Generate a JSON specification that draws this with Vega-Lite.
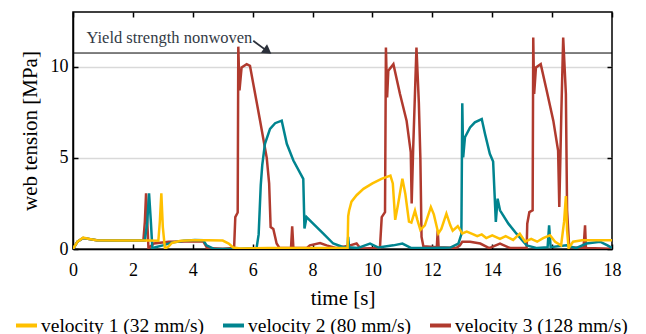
{
  "$schema": "https://vega.github.io/schema/vega-lite/v6.json",
  "autosize": {"type": "none"},
  "padding": {"left": 73, "top": 12, "right": 34, "bottom": 85},
  "width": 539,
  "height": 237,
  "config": {
    "font": "Liberation Serif",
    "view": {"stroke": "#000", "strokeWidth": 1.5},
    "text": {"font": "Liberation Serif"},
    "legend": {"labelFont": "Liberation Serif"},
    "axis": {"labelFont": "Liberation Serif", "titleFont": "Liberation Serif", "labelColor": "#000", "titleColor": "#000", "titleFontWeight": "normal", "domainColor": "#000", "tickColor": "#000", "domainWidth": 1.5, "tickWidth": 1.5},
    "axisX": {"labelFont": "Liberation Serif", "titleFont": "Liberation Serif", "titleFontWeight": "normal"},
    "axisY": {"labelFont": "Liberation Serif", "titleFont": "Liberation Serif", "titleFontWeight": "normal"}
  },
  "datasets": {
    "lines": [
      {"s": "velocity 3 (128 mm/s)", "t": 0, "v": 0},
      {"s": "velocity 3 (128 mm/s)", "t": 0.15, "v": 0.4},
      {"s": "velocity 3 (128 mm/s)", "t": 0.34, "v": 0.6},
      {"s": "velocity 3 (128 mm/s)", "t": 0.79, "v": 0.48},
      {"s": "velocity 3 (128 mm/s)", "t": 1.5, "v": 0.46},
      {"s": "velocity 3 (128 mm/s)", "t": 2.35, "v": 0.46},
      {"s": "velocity 3 (128 mm/s)", "t": 2.4, "v": 1.5},
      {"s": "velocity 3 (128 mm/s)", "t": 2.44, "v": 3.06},
      {"s": "velocity 3 (128 mm/s)", "t": 2.48, "v": 1.5},
      {"s": "velocity 3 (128 mm/s)", "t": 2.52, "v": 0.05},
      {"s": "velocity 3 (128 mm/s)", "t": 2.7, "v": 0.3},
      {"s": "velocity 3 (128 mm/s)", "t": 3.2, "v": 0.4},
      {"s": "velocity 3 (128 mm/s)", "t": 4.35, "v": 0.42},
      {"s": "velocity 3 (128 mm/s)", "t": 4.48, "v": 0.05},
      {"s": "velocity 3 (128 mm/s)", "t": 5.0, "v": 0.02},
      {"s": "velocity 3 (128 mm/s)", "t": 5.38, "v": 0.05},
      {"s": "velocity 3 (128 mm/s)", "t": 5.42, "v": 1.75},
      {"s": "velocity 3 (128 mm/s)", "t": 5.5, "v": 2.0},
      {"s": "velocity 3 (128 mm/s)", "t": 5.52, "v": 11.1},
      {"s": "velocity 3 (128 mm/s)", "t": 5.56, "v": 8.7},
      {"s": "velocity 3 (128 mm/s)", "t": 5.63, "v": 9.96},
      {"s": "velocity 3 (128 mm/s)", "t": 5.8, "v": 10.14},
      {"s": "velocity 3 (128 mm/s)", "t": 5.91, "v": 10.05},
      {"s": "velocity 3 (128 mm/s)", "t": 6.24, "v": 7.1},
      {"s": "velocity 3 (128 mm/s)", "t": 6.47, "v": 5.0},
      {"s": "velocity 3 (128 mm/s)", "t": 6.55, "v": 3.6},
      {"s": "velocity 3 (128 mm/s)", "t": 6.6, "v": 1.2},
      {"s": "velocity 3 (128 mm/s)", "t": 6.69, "v": 1.1},
      {"s": "velocity 3 (128 mm/s)", "t": 6.8, "v": 0.3},
      {"s": "velocity 3 (128 mm/s)", "t": 6.9, "v": 0.05},
      {"s": "velocity 3 (128 mm/s)", "t": 7.28, "v": 0.05},
      {"s": "velocity 3 (128 mm/s)", "t": 7.32, "v": 1.24},
      {"s": "velocity 3 (128 mm/s)", "t": 7.36, "v": 0.05},
      {"s": "velocity 3 (128 mm/s)", "t": 7.8, "v": 0.05},
      {"s": "velocity 3 (128 mm/s)", "t": 7.91, "v": 0.2},
      {"s": "velocity 3 (128 mm/s)", "t": 8.25, "v": 0.33},
      {"s": "velocity 3 (128 mm/s)", "t": 8.47, "v": 0.2},
      {"s": "velocity 3 (128 mm/s)", "t": 8.8, "v": 0.05},
      {"s": "velocity 3 (128 mm/s)", "t": 9.25, "v": 0.2},
      {"s": "velocity 3 (128 mm/s)", "t": 9.47, "v": 0.3},
      {"s": "velocity 3 (128 mm/s)", "t": 9.6, "v": 0.03},
      {"s": "velocity 3 (128 mm/s)", "t": 10.25, "v": 0.05},
      {"s": "velocity 3 (128 mm/s)", "t": 10.31, "v": 1.75},
      {"s": "velocity 3 (128 mm/s)", "t": 10.42, "v": 2.02},
      {"s": "velocity 3 (128 mm/s)", "t": 10.45, "v": 11.05},
      {"s": "velocity 3 (128 mm/s)", "t": 10.49, "v": 8.32},
      {"s": "velocity 3 (128 mm/s)", "t": 10.53, "v": 9.78},
      {"s": "velocity 3 (128 mm/s)", "t": 10.7, "v": 10.14},
      {"s": "velocity 3 (128 mm/s)", "t": 10.92, "v": 8.5},
      {"s": "velocity 3 (128 mm/s)", "t": 11.14, "v": 7.04},
      {"s": "velocity 3 (128 mm/s)", "t": 11.28, "v": 5.3},
      {"s": "velocity 3 (128 mm/s)", "t": 11.31, "v": 2.5},
      {"s": "velocity 3 (128 mm/s)", "t": 11.36, "v": 5.5},
      {"s": "velocity 3 (128 mm/s)", "t": 11.47, "v": 11.05},
      {"s": "velocity 3 (128 mm/s)", "t": 11.55, "v": 8.0},
      {"s": "velocity 3 (128 mm/s)", "t": 11.6, "v": 5.0},
      {"s": "velocity 3 (128 mm/s)", "t": 11.64, "v": 0.66},
      {"s": "velocity 3 (128 mm/s)", "t": 11.7, "v": 0.15},
      {"s": "velocity 3 (128 mm/s)", "t": 12.15, "v": 0.1},
      {"s": "velocity 3 (128 mm/s)", "t": 12.18, "v": 1.02},
      {"s": "velocity 3 (128 mm/s)", "t": 12.21, "v": 0.1},
      {"s": "velocity 3 (128 mm/s)", "t": 12.8, "v": 0.05},
      {"s": "velocity 3 (128 mm/s)", "t": 12.92, "v": 0.2},
      {"s": "velocity 3 (128 mm/s)", "t": 13.0, "v": 0.4},
      {"s": "velocity 3 (128 mm/s)", "t": 13.26, "v": 0.4},
      {"s": "velocity 3 (128 mm/s)", "t": 13.6, "v": 0.3},
      {"s": "velocity 3 (128 mm/s)", "t": 13.9, "v": 0.05},
      {"s": "velocity 3 (128 mm/s)", "t": 14.26, "v": 0.3},
      {"s": "velocity 3 (128 mm/s)", "t": 14.6, "v": 0.05},
      {"s": "velocity 3 (128 mm/s)", "t": 15.15, "v": 0.05},
      {"s": "velocity 3 (128 mm/s)", "t": 15.17, "v": 1.39},
      {"s": "velocity 3 (128 mm/s)", "t": 15.24, "v": 2.02},
      {"s": "velocity 3 (128 mm/s)", "t": 15.35, "v": 2.12},
      {"s": "velocity 3 (128 mm/s)", "t": 15.37, "v": 11.6},
      {"s": "velocity 3 (128 mm/s)", "t": 15.4, "v": 8.5},
      {"s": "velocity 3 (128 mm/s)", "t": 15.46, "v": 9.96},
      {"s": "velocity 3 (128 mm/s)", "t": 15.62, "v": 10.14},
      {"s": "velocity 3 (128 mm/s)", "t": 15.82, "v": 8.68},
      {"s": "velocity 3 (128 mm/s)", "t": 16.04, "v": 7.04},
      {"s": "velocity 3 (128 mm/s)", "t": 16.2, "v": 5.4},
      {"s": "velocity 3 (128 mm/s)", "t": 16.24, "v": 2.3},
      {"s": "velocity 3 (128 mm/s)", "t": 16.31, "v": 7.6},
      {"s": "velocity 3 (128 mm/s)", "t": 16.37, "v": 11.6},
      {"s": "velocity 3 (128 mm/s)", "t": 16.46, "v": 8.5},
      {"s": "velocity 3 (128 mm/s)", "t": 16.5, "v": 2.12},
      {"s": "velocity 3 (128 mm/s)", "t": 16.57, "v": 0.1},
      {"s": "velocity 3 (128 mm/s)", "t": 17.05, "v": 0.05},
      {"s": "velocity 3 (128 mm/s)", "t": 17.1, "v": 1.3},
      {"s": "velocity 3 (128 mm/s)", "t": 17.13, "v": 0.05},
      {"s": "velocity 3 (128 mm/s)", "t": 18.0, "v": 0.02},

      {"s": "velocity 2 (80 mm/s)", "t": 0, "v": 0},
      {"s": "velocity 2 (80 mm/s)", "t": 0.15, "v": 0.4},
      {"s": "velocity 2 (80 mm/s)", "t": 0.34, "v": 0.6},
      {"s": "velocity 2 (80 mm/s)", "t": 0.79, "v": 0.48},
      {"s": "velocity 2 (80 mm/s)", "t": 1.5, "v": 0.46},
      {"s": "velocity 2 (80 mm/s)", "t": 2.4, "v": 0.46},
      {"s": "velocity 2 (80 mm/s)", "t": 2.48, "v": 1.5},
      {"s": "velocity 2 (80 mm/s)", "t": 2.54, "v": 3.06},
      {"s": "velocity 2 (80 mm/s)", "t": 2.6, "v": 1.5},
      {"s": "velocity 2 (80 mm/s)", "t": 2.65, "v": 0.05},
      {"s": "velocity 2 (80 mm/s)", "t": 2.75, "v": 0.1},
      {"s": "velocity 2 (80 mm/s)", "t": 3.0, "v": 0.2},
      {"s": "velocity 2 (80 mm/s)", "t": 3.3, "v": 0.35},
      {"s": "velocity 2 (80 mm/s)", "t": 3.7, "v": 0.45},
      {"s": "velocity 2 (80 mm/s)", "t": 4.07, "v": 0.5},
      {"s": "velocity 2 (80 mm/s)", "t": 4.35, "v": 0.48},
      {"s": "velocity 2 (80 mm/s)", "t": 4.46, "v": 0.2},
      {"s": "velocity 2 (80 mm/s)", "t": 4.69, "v": 0.02},
      {"s": "velocity 2 (80 mm/s)", "t": 5.5, "v": 0.0},
      {"s": "velocity 2 (80 mm/s)", "t": 6.13, "v": 0.05},
      {"s": "velocity 2 (80 mm/s)", "t": 6.2, "v": 0.8},
      {"s": "velocity 2 (80 mm/s)", "t": 6.27, "v": 3.5},
      {"s": "velocity 2 (80 mm/s)", "t": 6.32, "v": 4.6},
      {"s": "velocity 2 (80 mm/s)", "t": 6.41, "v": 5.77},
      {"s": "velocity 2 (80 mm/s)", "t": 6.58, "v": 6.59},
      {"s": "velocity 2 (80 mm/s)", "t": 6.75, "v": 6.9},
      {"s": "velocity 2 (80 mm/s)", "t": 6.97, "v": 7.04},
      {"s": "velocity 2 (80 mm/s)", "t": 7.14, "v": 5.77},
      {"s": "velocity 2 (80 mm/s)", "t": 7.36, "v": 4.85},
      {"s": "velocity 2 (80 mm/s)", "t": 7.69, "v": 3.85},
      {"s": "velocity 2 (80 mm/s)", "t": 7.73, "v": 1.12},
      {"s": "velocity 2 (80 mm/s)", "t": 7.8, "v": 1.75},
      {"s": "velocity 2 (80 mm/s)", "t": 8.02, "v": 1.39},
      {"s": "velocity 2 (80 mm/s)", "t": 8.36, "v": 0.84},
      {"s": "velocity 2 (80 mm/s)", "t": 8.69, "v": 0.3},
      {"s": "velocity 2 (80 mm/s)", "t": 9.03, "v": 0.1},
      {"s": "velocity 2 (80 mm/s)", "t": 9.17, "v": 0.1},
      {"s": "velocity 2 (80 mm/s)", "t": 9.19, "v": 0.66},
      {"s": "velocity 2 (80 mm/s)", "t": 9.22, "v": 0.1},
      {"s": "velocity 2 (80 mm/s)", "t": 9.5, "v": 0.05},
      {"s": "velocity 2 (80 mm/s)", "t": 9.92, "v": 0.3},
      {"s": "velocity 2 (80 mm/s)", "t": 10.2, "v": 0.08},
      {"s": "velocity 2 (80 mm/s)", "t": 10.7, "v": 0.2},
      {"s": "velocity 2 (80 mm/s)", "t": 11.0, "v": 0.3},
      {"s": "velocity 2 (80 mm/s)", "t": 11.3, "v": 0.05},
      {"s": "velocity 2 (80 mm/s)", "t": 12.0, "v": 0.05},
      {"s": "velocity 2 (80 mm/s)", "t": 12.6, "v": 0.08},
      {"s": "velocity 2 (80 mm/s)", "t": 12.87, "v": 0.3},
      {"s": "velocity 2 (80 mm/s)", "t": 12.97, "v": 0.8},
      {"s": "velocity 2 (80 mm/s)", "t": 13.0, "v": 8.0},
      {"s": "velocity 2 (80 mm/s)", "t": 13.03, "v": 5.03},
      {"s": "velocity 2 (80 mm/s)", "t": 13.09, "v": 6.13},
      {"s": "velocity 2 (80 mm/s)", "t": 13.26, "v": 6.67},
      {"s": "velocity 2 (80 mm/s)", "t": 13.42, "v": 6.95},
      {"s": "velocity 2 (80 mm/s)", "t": 13.65, "v": 7.13},
      {"s": "velocity 2 (80 mm/s)", "t": 13.76, "v": 6.31},
      {"s": "velocity 2 (80 mm/s)", "t": 13.92, "v": 5.22},
      {"s": "velocity 2 (80 mm/s)", "t": 14.03, "v": 4.8},
      {"s": "velocity 2 (80 mm/s)", "t": 14.12, "v": 1.48},
      {"s": "velocity 2 (80 mm/s)", "t": 14.18, "v": 2.76},
      {"s": "velocity 2 (80 mm/s)", "t": 14.26, "v": 2.12},
      {"s": "velocity 2 (80 mm/s)", "t": 14.54, "v": 1.39},
      {"s": "velocity 2 (80 mm/s)", "t": 14.81, "v": 0.84},
      {"s": "velocity 2 (80 mm/s)", "t": 15.15, "v": 0.2},
      {"s": "velocity 2 (80 mm/s)", "t": 15.5, "v": 0.05},
      {"s": "velocity 2 (80 mm/s)", "t": 15.85, "v": 0.1},
      {"s": "velocity 2 (80 mm/s)", "t": 15.9, "v": 1.3},
      {"s": "velocity 2 (80 mm/s)", "t": 15.95, "v": 0.1},
      {"s": "velocity 2 (80 mm/s)", "t": 16.48, "v": 0.2},
      {"s": "velocity 2 (80 mm/s)", "t": 16.8, "v": 0.05},
      {"s": "velocity 2 (80 mm/s)", "t": 17.15, "v": 0.3},
      {"s": "velocity 2 (80 mm/s)", "t": 17.6, "v": 0.4},
      {"s": "velocity 2 (80 mm/s)", "t": 17.85, "v": 0.2},
      {"s": "velocity 2 (80 mm/s)", "t": 18.0, "v": 0.05},

      {"s": "velocity 1 (32 mm/s)", "t": 0, "v": 0},
      {"s": "velocity 1 (32 mm/s)", "t": 0.15, "v": 0.4},
      {"s": "velocity 1 (32 mm/s)", "t": 0.34, "v": 0.62},
      {"s": "velocity 1 (32 mm/s)", "t": 0.55, "v": 0.55},
      {"s": "velocity 1 (32 mm/s)", "t": 0.79, "v": 0.48},
      {"s": "velocity 1 (32 mm/s)", "t": 1.5, "v": 0.46},
      {"s": "velocity 1 (32 mm/s)", "t": 2.5, "v": 0.46},
      {"s": "velocity 1 (32 mm/s)", "t": 2.85, "v": 0.45},
      {"s": "velocity 1 (32 mm/s)", "t": 2.9, "v": 1.5},
      {"s": "velocity 1 (32 mm/s)", "t": 2.95, "v": 3.06},
      {"s": "velocity 1 (32 mm/s)", "t": 3.0, "v": 1.2},
      {"s": "velocity 1 (32 mm/s)", "t": 3.07, "v": 0.02},
      {"s": "velocity 1 (32 mm/s)", "t": 3.2, "v": 0.15},
      {"s": "velocity 1 (32 mm/s)", "t": 3.3, "v": 0.33},
      {"s": "velocity 1 (32 mm/s)", "t": 3.6, "v": 0.45},
      {"s": "velocity 1 (32 mm/s)", "t": 4.0, "v": 0.48},
      {"s": "velocity 1 (32 mm/s)", "t": 4.5, "v": 0.48},
      {"s": "velocity 1 (32 mm/s)", "t": 5.0, "v": 0.46},
      {"s": "velocity 1 (32 mm/s)", "t": 5.2, "v": 0.3},
      {"s": "velocity 1 (32 mm/s)", "t": 5.35, "v": 0.08},
      {"s": "velocity 1 (32 mm/s)", "t": 5.6, "v": 0.03},
      {"s": "velocity 1 (32 mm/s)", "t": 6.5, "v": 0.05},
      {"s": "velocity 1 (32 mm/s)", "t": 7.5, "v": 0.05},
      {"s": "velocity 1 (32 mm/s)", "t": 8.5, "v": 0.05},
      {"s": "velocity 1 (32 mm/s)", "t": 9.17, "v": 0.06},
      {"s": "velocity 1 (32 mm/s)", "t": 9.19, "v": 1.8},
      {"s": "velocity 1 (32 mm/s)", "t": 9.22, "v": 2.1},
      {"s": "velocity 1 (32 mm/s)", "t": 9.3, "v": 2.6},
      {"s": "velocity 1 (32 mm/s)", "t": 9.47, "v": 2.95},
      {"s": "velocity 1 (32 mm/s)", "t": 9.7, "v": 3.3},
      {"s": "velocity 1 (32 mm/s)", "t": 10.0, "v": 3.6},
      {"s": "velocity 1 (32 mm/s)", "t": 10.3, "v": 3.85},
      {"s": "velocity 1 (32 mm/s)", "t": 10.6, "v": 4.03},
      {"s": "velocity 1 (32 mm/s)", "t": 10.68, "v": 3.6},
      {"s": "velocity 1 (32 mm/s)", "t": 10.76, "v": 1.6},
      {"s": "velocity 1 (32 mm/s)", "t": 10.85, "v": 2.4},
      {"s": "velocity 1 (32 mm/s)", "t": 11.0, "v": 3.85},
      {"s": "velocity 1 (32 mm/s)", "t": 11.1, "v": 3.0},
      {"s": "velocity 1 (32 mm/s)", "t": 11.22, "v": 1.5},
      {"s": "velocity 1 (32 mm/s)", "t": 11.3, "v": 1.45},
      {"s": "velocity 1 (32 mm/s)", "t": 11.42, "v": 2.1},
      {"s": "velocity 1 (32 mm/s)", "t": 11.5, "v": 1.6},
      {"s": "velocity 1 (32 mm/s)", "t": 11.6, "v": 1.05},
      {"s": "velocity 1 (32 mm/s)", "t": 11.75, "v": 1.3},
      {"s": "velocity 1 (32 mm/s)", "t": 11.95, "v": 2.3},
      {"s": "velocity 1 (32 mm/s)", "t": 12.05, "v": 1.9},
      {"s": "velocity 1 (32 mm/s)", "t": 12.2, "v": 0.85},
      {"s": "velocity 1 (32 mm/s)", "t": 12.3, "v": 1.1},
      {"s": "velocity 1 (32 mm/s)", "t": 12.47, "v": 1.94},
      {"s": "velocity 1 (32 mm/s)", "t": 12.6, "v": 1.3},
      {"s": "velocity 1 (32 mm/s)", "t": 12.68, "v": 1.0},
      {"s": "velocity 1 (32 mm/s)", "t": 12.85, "v": 1.25},
      {"s": "velocity 1 (32 mm/s)", "t": 13.0, "v": 0.85},
      {"s": "velocity 1 (32 mm/s)", "t": 13.15, "v": 0.95},
      {"s": "velocity 1 (32 mm/s)", "t": 13.37, "v": 0.8},
      {"s": "velocity 1 (32 mm/s)", "t": 13.5, "v": 0.7},
      {"s": "velocity 1 (32 mm/s)", "t": 13.65, "v": 0.8},
      {"s": "velocity 1 (32 mm/s)", "t": 13.8, "v": 0.6},
      {"s": "velocity 1 (32 mm/s)", "t": 14.0, "v": 0.75},
      {"s": "velocity 1 (32 mm/s)", "t": 14.26, "v": 0.55},
      {"s": "velocity 1 (32 mm/s)", "t": 14.45, "v": 0.7},
      {"s": "velocity 1 (32 mm/s)", "t": 14.7, "v": 0.5},
      {"s": "velocity 1 (32 mm/s)", "t": 14.92, "v": 0.84},
      {"s": "velocity 1 (32 mm/s)", "t": 15.1, "v": 0.4},
      {"s": "velocity 1 (32 mm/s)", "t": 15.3, "v": 0.55},
      {"s": "velocity 1 (32 mm/s)", "t": 15.5, "v": 0.4},
      {"s": "velocity 1 (32 mm/s)", "t": 15.7, "v": 0.6},
      {"s": "velocity 1 (32 mm/s)", "t": 15.93, "v": 0.75},
      {"s": "velocity 1 (32 mm/s)", "t": 16.1, "v": 0.4},
      {"s": "velocity 1 (32 mm/s)", "t": 16.3, "v": 0.2},
      {"s": "velocity 1 (32 mm/s)", "t": 16.4, "v": 1.5},
      {"s": "velocity 1 (32 mm/s)", "t": 16.46, "v": 2.9},
      {"s": "velocity 1 (32 mm/s)", "t": 16.5, "v": 1.0},
      {"s": "velocity 1 (32 mm/s)", "t": 16.55, "v": 0.05},
      {"s": "velocity 1 (32 mm/s)", "t": 16.7, "v": 0.4},
      {"s": "velocity 1 (32 mm/s)", "t": 17.0, "v": 0.48},
      {"s": "velocity 1 (32 mm/s)", "t": 17.5, "v": 0.48},
      {"s": "velocity 1 (32 mm/s)", "t": 18.0, "v": 0.48}
    ]
  },
  "layer": [
    {
      "data": {"values": [{"y": 10.75}]},
      "mark": {"type": "rule", "color": "#000", "strokeWidth": 1},
      "encoding": {"y": {"field": "y", "type": "quantitative", "axis": null}}
    },
    {
      "data": {"name": "lines"},
      "transform": [{"filter": "datum.s === 'velocity 3 (128 mm/s)'"}],
      "mark": {"type": "line", "strokeWidth": 2.5, "clip": true},
      "encoding": {
        "x": {"field": "t", "type": "quantitative", "scale": {"domain": [0, 18], "nice": false, "zero": false},
          "axis": {"title": "time [s]", "values": [0, 2, 4, 6, 8, 10, 12, 14, 16, 18], "tickSize": -5, "labelPadding": 17, "labelFont": "Liberation Serif", "titleFont": "Liberation Serif", "titleFontWeight": "normal", "labelFontSize": 18, "titleFontSize": 21, "titlePadding": 8, "grid": false, "labelFlush": false}},
        "y": {"field": "v", "type": "quantitative", "scale": {"domain": [0, 13], "nice": false},
          "axis": {"title": "web tension [MPa]", "values": [0, 5, 10], "tickSize": -5, "labelPadding": 10, "labelFont": "Liberation Serif", "titleFont": "Liberation Serif", "titleFontWeight": "normal", "labelFontSize": 18, "titleFontSize": 21, "titlePadding": 10, "grid": true, "gridColor": "#d9d9d9", "gridWidth": 1.5}},
        "color": {"field": "s", "type": "nominal",
          "scale": {"domain": ["velocity 1 (32 mm/s)", "velocity 2 (80 mm/s)", "velocity 3 (128 mm/s)"], "range": ["#FFC000", "#00848F", "#B03A2E"]},
          "legend": {"orient": "none", "legendX": -59, "legendY": 301, "direction": "horizontal", "columns": 3, "title": null, "symbolType": "stroke", "symbolStrokeWidth": 4, "symbolSize": 440, "labelFontSize": 19.5, "labelFont": "Liberation Serif", "labelColor": "#000", "labelOffset": 2, "columnPadding": 10, "labelLimit": 300}}
      }
    },
    {
      "data": {"name": "lines"},
      "transform": [{"filter": "datum.s === 'velocity 2 (80 mm/s)'"}],
      "mark": {"type": "line", "strokeWidth": 2.5, "clip": true},
      "encoding": {
        "x": {"field": "t", "type": "quantitative", "axis": null},
        "y": {"field": "v", "type": "quantitative", "axis": null},
        "color": {"field": "s", "type": "nominal"}
      }
    },
    {
      "data": {"name": "lines"},
      "transform": [{"filter": "datum.s === 'velocity 1 (32 mm/s)'"}],
      "mark": {"type": "line", "strokeWidth": 2.5, "clip": true},
      "encoding": {
        "x": {"field": "t", "type": "quantitative", "axis": null},
        "y": {"field": "v", "type": "quantitative", "axis": null},
        "color": {"field": "s", "type": "nominal"}
      }
    },
    {
      "data": {"values": [{"t": 0.45, "v": 11.6, "label": "Yield strength nonwoven"}]},
      "mark": {"type": "text", "align": "left", "baseline": "middle", "fontSize": 16.5, "font": "Liberation Serif", "color": "#333a45"},
      "encoding": {
        "x": {"field": "t", "type": "quantitative", "axis": null},
        "y": {"field": "v", "type": "quantitative", "axis": null},
        "text": {"field": "label"}
      }
    },
    {
      "data": {"values": [{"t": 6.02, "v": 11.42, "t2": 6.5, "v2": 10.84}]},
      "mark": {"type": "rule", "color": "#2b303a", "strokeWidth": 1.8},
      "encoding": {
        "x": {"field": "t", "type": "quantitative",
          "axis": {"orient": "top", "values": [0, 2, 4, 6, 8, 10, 12, 14, 16, 18], "labels": false, "title": null, "tickSize": -5, "domain": false, "grid": false}},
        "y": {"field": "v", "type": "quantitative",
          "axis": {"orient": "right", "values": [0, 5, 10], "labels": false, "title": null, "tickSize": -5, "domain": false, "grid": false}},
        "x2": {"field": "t2"},
        "y2": {"field": "v2"}
      }
    },
    {
      "data": {"values": [{"t": 6.5, "v": 10.85}]},
      "mark": {"type": "point", "shape": "triangle-right", "filled": true, "color": "#2b303a", "size": 110, "angle": 36, "opacity": 1},
      "encoding": {
        "x": {"field": "t", "type": "quantitative", "axis": null},
        "y": {"field": "v", "type": "quantitative", "axis": null}
      }
    }
  ],
  "resolve": {"axis": {"x": "independent", "y": "independent"}}
}
